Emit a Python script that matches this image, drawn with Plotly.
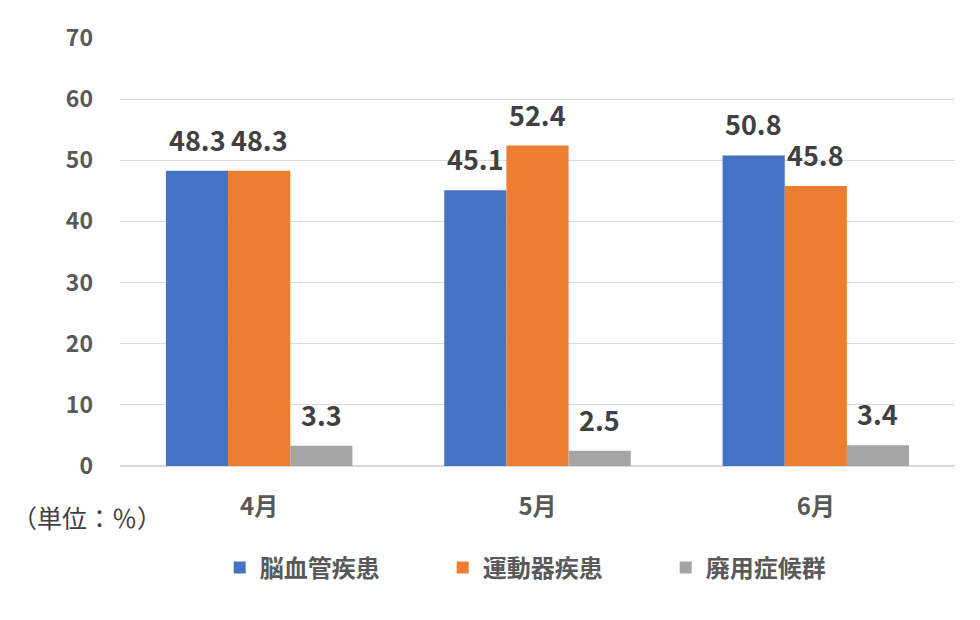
import plotly.graph_objects as go

categories = ["4月", "5月", "6月"]
series_names = ["脳血管疾患", "運動器疾患", "廃用症候群"]
cerebro = [48.3, 45.1, 50.8]
motor = [48.3, 52.4, 45.8]
disuse = [3.3, 2.5, 3.4]
colors = ["#4472C4", "#ED7D31", "#A5A5A5"]
y_ticks = [0, 10, 20, 30, 40, 50, 60, 70]

FONT = "Noto Sans CJK JP, Noto Sans, sans-serif"
series = [cerebro, motor, disuse]

fig = go.Figure()
for name, vals, col in zip(series_names, series, colors):
    fig.add_trace(go.Bar(
        x=categories, y=vals, name=name, marker_color=col,
        marker_line_width=0,
    ))

bar_px = 62
for si, vals in enumerate(series):
    for ci, v in enumerate(vals):
        fig.add_annotation(
            x=ci, y=v, xref="x", yref="y", text=f"<b>{v}</b>",
            showarrow=False, yanchor="bottom", xanchor="center",
            xshift=(si - 1) * bar_px, yshift=10,
            font=dict(family=FONT, size=27, color="#404040"),
        )

pw = 980 - 120 - 25
ph = 620 - 38 - 154
fig.add_annotation(
    x=(87 - 120) / pw, y=(466 - 517) / ph, xref="paper", yref="paper",
    xanchor="center", yanchor="middle", text="（単位：％）",
    showarrow=False, font=dict(family=FONT, size=25, color="#404040"),
)

fig.update_layout(
    width=980, height=620,
    margin=dict(l=120, r=25, t=38, b=154),
    paper_bgcolor="white", plot_bgcolor="white",
    barmode="group", bargap=0.33, bargroupgap=0,
    font=dict(family=FONT, color="#595959"),
    legend=dict(
        orientation="h", x=0.52, xanchor="center", y=-0.238, yanchor="middle",
        font=dict(family=FONT, size=24, color="#595959", weight="bold"),
        itemwidth=30, tracegroupgap=0, entrywidth=178, entrywidthmode="pixels",
    ),
    showlegend=True,
)

fig.update_yaxes(
    range=[0, 70], tickvals=y_ticks, showgrid=True, gridcolor="#D9D9D9",
    gridwidth=1, zeroline=True, zerolinecolor="#D9D9D9", showline=False,
    ticks="", tickfont=dict(family=FONT, size=23, color="#595959", weight="bold"),
    ticklabelstandoff=26,
)
fig.update_xaxes(
    showline=False, ticks="",
    tickfont=dict(family=FONT, size=24, color="#595959", weight="bold"),
    ticklabelstandoff=24,
)

fig.write_html("out.html")
